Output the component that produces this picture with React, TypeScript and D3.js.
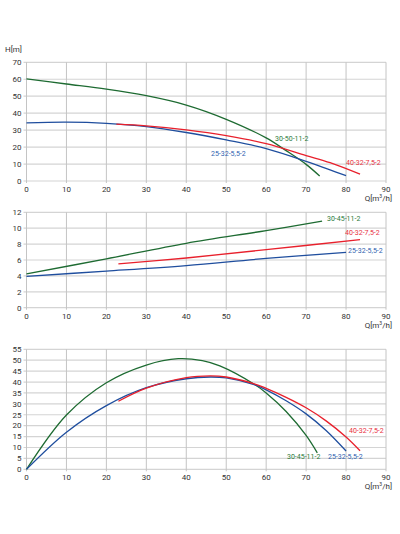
import React from 'react';
import * as d3 from 'd3';

type Pt = [number, number];

// Q-H curves
const headGreen: Pt[] = [[0, 60.2], [10, 57.2], [20, 54.2], [30, 50.3], [40, 44.8], [50, 36.4], [60, 25.4], [65, 17.9], [70, 9.8], [73.4, 2.9]];
const headBlue: Pt[] = [[0, 34.3], [10, 34.7], [20, 34], [30, 32.1], [40, 28.6], [50, 24.2], [60, 19.1], [70, 11.6], [76, 6.5], [80, 3.2]];
const headRed: Pt[] = [[22.5, 33.5], [30, 32.5], [40, 30.1], [50, 26.7], [60, 22], [70, 15], [76, 10.8], [83.5, 4]];

// NPSH curves
const npshGreen: Pt[] = [[0, 4.25], [20, 6.15], [40, 8.1], [60, 9.7], [74, 10.9]];
const npshBlue: Pt[] = [[0, 3.95], [20, 4.6], [40, 5.3], [60, 6.2], [80, 6.95]];
const npshRed: Pt[] = [[23, 5.5], [40, 6.25], [60, 7.3], [83.5, 8.55]];

// efficiency curves
const effGreen: Pt[] = [[0, 0], [10, 24.9], [20, 39.7], [30, 47.8], [38, 50.7], [44, 49.8], [48.4, 47.4], [57, 39], [60, 35], [65, 26.5], [70, 15.5], [72.8, 7.5]];
const effBlue: Pt[] = [[0, 0], [10, 17], [20, 29.2], [30, 37.4], [40, 41.5], [46, 42.3], [50, 41.9], [57, 38.8], [60, 36.4], [65, 31.4], [70, 25.4], [75, 17.8], [80, 8.4]];
const effRed: Pt[] = [[23, 31.2], [30, 37.2], [40, 42], [46, 42.8], [50, 42.3], [57, 39.2], [60, 37.1], [65, 33], [70, 28.2], [75, 22.2], [80, 14.8], [83.5, 8.5]];

const xTicks = [0, 10, 20, 30, 40, 50, 60, 70, 80, 90];

const GREEN = '#1e6b32';
const BLUE = '#1f4e9e';
const RED = '#e8202c';

interface Label { text: string; x: number; y: number; color: string }

interface PanelProps {
  yMax: number;
  yStep: number;
  yTop: number;
  yBottom: number;
  series: { data: Pt[]; color: string }[];
  labels: Label[];
  yTitle?: string;
}

const x = d3.scaleLinear().domain([0, 90]).range([26.5, 386]);

const Panel: React.FC<PanelProps> = ({ yMax, yStep, yTop, yBottom, series, labels, yTitle }) => {
  const y = d3.scaleLinear().domain([0, yMax]).range([yBottom, yTop]);
  const yTicks = d3.range(0, yMax + 0.001, yStep);
  const line = d3.line<Pt>().x(d => x(d[0])).y(d => y(d[1])).curve(d3.curveCatmullRom.alpha(0.5));
  return (
    <g fontFamily="Roboto, 'Open Sans', sans-serif" fontSize={8} fill="#333">
      {yTicks.map(t => (
        <g key={'y' + t}>
          <line x1={x(0) - 3} x2={x(90)} y1={y(t)} y2={y(t)} stroke="#d4d4d4" strokeWidth={1.2} />
          <text x={x(0) - 5} y={y(t)} dy="0.35em" textAnchor="end">{t}</text>
        </g>
      ))}
      {xTicks.map(t => (
        <g key={'x' + t}>
          <line x1={x(t)} x2={x(t)} y1={yTop} y2={yBottom + 2} stroke="#c4c4c4" strokeWidth={1} />
          <text x={x(t)} y={yBottom + 8} dy="0.35em" textAnchor="middle">{t}</text>
        </g>
      ))}
      <text x={392} y={yBottom + 17} dy="0.35em" textAnchor="end">Q[m<tspan fontSize={5} dy="-3">3</tspan><tspan dy="3">/h]</tspan></text>
      {yTitle && <text x={5} y={yTop - 13} dy="0.35em">{yTitle}</text>}
      {series.map((s, i) => (
        <path key={i} d={line(s.data) ?? ''} fill="none" stroke={s.color} strokeWidth={1.3} />
      ))}
      {labels.map((l, i) => (
        <text key={'l' + i} x={l.x} y={l.y} dy="0.35em" fill={l.color} fontSize={7}>{l.text}</text>
      ))}
    </g>
  );
};

export default function App() {
  return (
    <svg width={400} height={534} style={{ position: 'absolute', left: 0, top: 0, background: '#fff' }}>
      <rect width={400} height={534} fill="#fff" />
      <Panel
        yMax={70} yStep={10} yTop={62.3} yBottom={181} yTitle="H[m]"
        series={[{ data: headGreen, color: GREEN }, { data: headBlue, color: BLUE }, { data: headRed, color: RED }]}
        labels={[
          { text: '30-50-11-2', x: 275, y: 139, color: '#2a7a3a' },
          { text: '25-32-5,5-2', x: 211, y: 154, color: '#2f5fb0' },
          { text: '40-32-7,5-2', x: 346, y: 163, color: '#e83040' },
        ]}
      />
      <Panel
        yMax={12} yStep={2} yTop={212.3} yBottom={307.7}
        series={[{ data: npshGreen, color: GREEN }, { data: npshBlue, color: BLUE }, { data: npshRed, color: RED }]}
        labels={[
          { text: '30-45-11-2', x: 327, y: 219, color: '#2a7a3a' },
          { text: '40-32-7,5-2', x: 345, y: 233, color: '#e83040' },
          { text: '25-32-5,5-2', x: 348, y: 251, color: '#2f5fb0' },
        ]}
      />
      <Panel
        yMax={55} yStep={5} yTop={349.3} yBottom={469.3}
        series={[{ data: effGreen, color: GREEN }, { data: effBlue, color: BLUE }, { data: effRed, color: RED }]}
        labels={[
          { text: '30-45-11-2', x: 287, y: 457, color: '#2a7a3a' },
          { text: '25-32-5,5-2', x: 328, y: 457, color: '#2f5fb0' },
          { text: '40-32-7,5-2', x: 349, y: 431, color: '#e83040' },
        ]}
      />
    </svg>
  );
}
